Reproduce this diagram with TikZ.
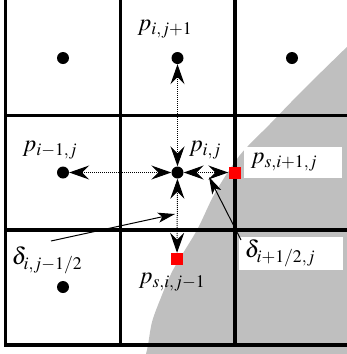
\documentclass[tikz,border=0pt]{standalone}
\usepackage{mathptmx}
\usetikzlibrary{arrows.meta}
\begin{document}
\begin{tikzpicture}[x=1bp,y=-1bp,
  dot/.style={circle,fill=black,inner sep=0pt,minimum size=12bp},
  sq/.style={rectangle,fill=red,inner sep=0pt,minimum size=12bp},
  gridline/.style={line width=3.5bp},
  flux/.style={dash pattern=on 1bp off 1bp,line width=1bp,
    {Stealth[length=20bp,width=14bp,inset=7bp]}-{Stealth[length=20bp,width=14bp,inset=7bp]}},
  pointer/.style={line width=1bp,-{Stealth[length=17bp,width=10bp,inset=4bp]}},
  lab/.style={font=\fontsize{24}{28}\selectfont,inner sep=1bp},
  labbox/.style={fill=white,inner sep=0pt}
]
\useasboundingbox (0,0) rectangle (347,354);
\begin{scope}
\clip (0,0) rectangle (347,354);
% shaded region
\fill[gray!50] plot[smooth] coordinates {(146,354) (148,345) (152,322) (160,300) (173,270) (197,230) (215,193) (240,155) (270,124) (305,88) (352,42)} -- (352,354) -- cycle;
% grid
\draw[gridline] (5.7,-1.5) rectangle (349,345);
\draw[gridline] (120.3,-1.5) -- (120.3,345);
\draw[gridline] (234.8,-1.5) -- (234.8,345);
\draw[gridline] (5.7,115.5) -- (349,115.5);
\draw[gridline] (5.7,230) -- (349,230);
\end{scope}
% label boxes
\node[labbox,minimum width=98bp,minimum height=31bp] (box1) at (293,162.5) {};
\node[labbox,minimum width=104bp,minimum height=33bp] (box2) at (291,253.5) {};
% dots
\node[dot] (TL) at (63,58) {};
\node[dot] (T) at (177.5,58) {};
\node[dot] (TR) at (292,58) {};
\node[dot] (L) at (63,172.5) {};
\node[dot] (C) at (177.5,172.5) {};
\node[dot] (BL) at (63,287) {};
\node[sq] (R) at (234.5,172.5) {};
\node[sq] (B) at (177,259) {};
% flux arrows
\draw[flux] (C) -- (T);
\draw[flux] (C) -- (L);
\draw[flux] (C) -- (R);
\draw[flux] (C) -- (B);
% labels
\node[lab] (lT) at (165,29) {$p_{i,j+1}$};
\node[lab] (lL) at (50,150) {$p_{i-1,j}$};
\node[lab] (lC) at (205,150) {$p_{i,j}$};
\node[lab] (lR) at (284,162) {$p_{s,i+1,j}$};
\node[lab] (lB) at (172,282) {$p_{s,i,j-1}$};
\node[lab] (dB) at (47,260) {$\delta_{i,j-1/2}$};
\node[lab] (dR) at (280,253) {$\delta_{i+1/2,j}$};
% pointers
\coordinate (dBs) at (51,241);
\coordinate (dBe) at (175,214);
\coordinate (dRs) at (241,240);
\coordinate (dRe) at (209,177);
\draw[pointer] (dBs) -- (dBe);
\draw[pointer] (dRs) -- (dRe);
\end{tikzpicture}
\end{document}
